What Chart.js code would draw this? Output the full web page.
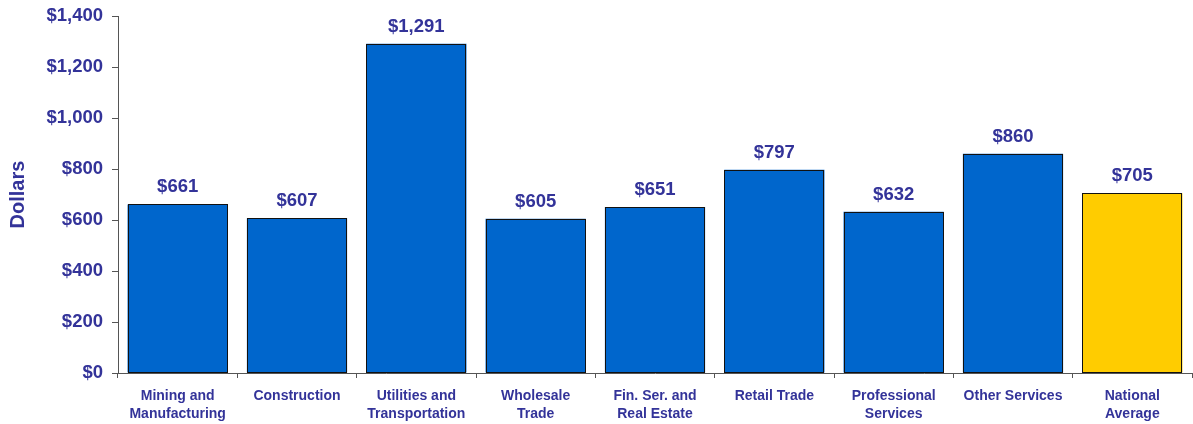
<!DOCTYPE html>
<html>
<head>
<meta charset="utf-8">
<script src="https://cdn.jsdelivr.net/npm/chart.js@4/dist/chart.umd.min.js"></script>
<style>
  html, body { margin: 0; padding: 0; background: #fff; }
  #wrap { width: 1193px; height: 424px; }
</style>
</head>
<body>
<div id="wrap"><canvas id="wageChart"></canvas></div>
<script>
const categories = [
    ['Mining and', 'Manufacturing'],
    'Construction',
    ['Utilities and', 'Transportation'],
    ['Wholesale', 'Trade'],
    ['Fin. Ser. and', 'Real Estate'],
    'Retail Trade',
    ['Professional', 'Services'],
    'Other Services',
    ['National', 'Average']
];
const wages = [661, 607, 1291, 605, 651, 797, 632, 860, 705];
const yTicks = [0, 200, 400, 600, 800, 1000, 1200, 1400];

const textColor = '#333399';
const fontFamily = '"Liberation Sans", Arial, sans-serif';
const barColors = wages.map((v, i) => i === wages.length - 1 ? '#FFCC00' : '#0066CC');

const money = v => '$' + v.toLocaleString('en-US');

// crisp black outline round every bar, then the value above it
const barLabels = {
    id: 'barLabels',
    afterDatasetsDraw(chart) {
        const ctx = chart.ctx;
        const meta = chart.getDatasetMeta(0);
        ctx.save();
        ctx.strokeStyle = '#111';
        ctx.lineWidth = 1;
        meta.data.forEach(bar => {
            const left = Math.round(bar.x - bar.width / 2) + 0.5;
            const right = Math.round(bar.x + bar.width / 2) - 0.5;
            const top = Math.round(bar.y) + 0.5;
            const bottom = Math.round(bar.base) - 0.5;
            ctx.strokeRect(left, top, right - left, bottom - top);
        });
        ctx.fillStyle = textColor;
        ctx.font = 'bold 18.5px ' + fontFamily;
        ctx.textAlign = 'center';
        ctx.textBaseline = 'bottom';
        meta.data.forEach((bar, i) => {
            ctx.fillText(money(wages[i]), bar.x, bar.y - 8);
        });
        ctx.restore();
    }
};

new Chart(document.getElementById('wageChart').getContext('2d'), {
    type: 'bar',
    data: {
        labels: categories,
        datasets: [{
            data: wages,
            backgroundColor: barColors,
            borderWidth: 0,
            categoryPercentage: 1,
            barPercentage: 0.84
        }]
    },
    options: {
        responsive: true,
        maintainAspectRatio: false,
        animation: false,
        layout: { padding: { top: 16, right: 1, left: 0, bottom: 0 } },
        plugins: {
            legend: { display: false },
            tooltip: { enabled: false }
        },
        scales: {
            x: {
                offset: true,
                grid: {
                    offset: true,
                    drawOnChartArea: false,
                    drawTicks: true,
                    tickLength: 5,
                    color: '#555'
                },
                border: { color: '#555', width: 1 },
                ticks: {
                    color: textColor,
                    font: { family: fontFamily, size: 14, weight: 'bold', lineHeight: 1.3 },
                    maxRotation: 0,
                    autoSkip: false,
                    padding: 9
                },
                afterFit(scale) {
                    scale.height = 51;
                    scale.paddingLeft = 0;
                    scale.paddingRight = 0;
                }
            },
            y: {
                min: 0,
                max: 1400,
                afterBuildTicks(scale) { scale.ticks = yTicks.map(v => ({ value: v })); },
                grid: {
                    drawOnChartArea: false,
                    drawTicks: true,
                    tickLength: 6,
                    color: '#555'
                },
                border: { color: '#555', width: 1 },
                ticks: {
                    color: textColor,
                    font: { family: fontFamily, size: 18.5, weight: 'bold' },
                    padding: 9,
                    callback: v => money(v)
                },
                title: {
                    display: true,
                    text: 'Dollars',
                    color: textColor,
                    font: { family: fontFamily, size: 20, weight: 'bold' },
                    padding: { top: 6, bottom: 0 }
                },
                afterFit(scale) {
                    scale.width = 118;
                    scale.paddingTop = 0;
                    scale.paddingBottom = 0;
                }
            }
        }
    },
    plugins: [barLabels]
});
</script>
</body>
</html>
